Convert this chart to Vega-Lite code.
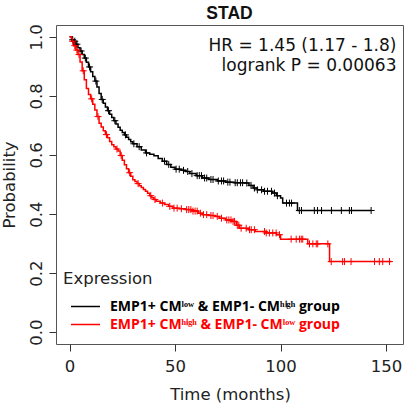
{
  "$schema": "https://vega.github.io/schema/vega-lite/v6.json",
  "width": 347,
  "height": 319,
  "autosize": "none",
  "padding": {"left": 56, "top": 25, "right": 12, "bottom": 63},
  "title": {"text": "STAD", "font": "Liberation Sans", "fontSize": 17.5, "fontWeight": "bold", "offset": 6, "dy": 5, "anchor": "middle", "color": "#111"},
  "config": {"view": {"stroke": "#555", "strokeWidth": 1}, "font": "DejaVu Sans"},
  "datasets": {
    "curves": [
      {"g":"A","t":0,"p":1.0},{"g":"A","t":1,"p":0.99},{"g":"A","t":2,"p":0.985},{"g":"A","t":3,"p":0.975},{"g":"A","t":4,"p":0.963},{"g":"A","t":5,"p":0.952},{"g":"A","t":6,"p":0.94},{"g":"A","t":7,"p":0.928},{"g":"A","t":8,"p":0.914},{"g":"A","t":9,"p":0.898},{"g":"A","t":10,"p":0.882},{"g":"A","t":11,"p":0.866},{"g":"A","t":12,"p":0.85},{"g":"A","t":13,"p":0.83},{"g":"A","t":14,"p":0.808},{"g":"A","t":15,"p":0.788},{"g":"A","t":16,"p":0.775},{"g":"A","t":17,"p":0.762},{"g":"A","t":18,"p":0.75},{"g":"A","t":19,"p":0.738},{"g":"A","t":20,"p":0.727},{"g":"A","t":21,"p":0.716},{"g":"A","t":22,"p":0.705},{"g":"A","t":23,"p":0.694},{"g":"A","t":24,"p":0.684},{"g":"A","t":25,"p":0.676},{"g":"A","t":26,"p":0.668},{"g":"A","t":27,"p":0.66},{"g":"A","t":28,"p":0.652},{"g":"A","t":29,"p":0.645},{"g":"A","t":30,"p":0.638},{"g":"A","t":32,"p":0.628},{"g":"A","t":34,"p":0.617},{"g":"A","t":36,"p":0.607},{"g":"A","t":38,"p":0.602},{"g":"A","t":40,"p":0.597},{"g":"A","t":42,"p":0.588},{"g":"A","t":44,"p":0.579},{"g":"A","t":46,"p":0.568},{"g":"A","t":48,"p":0.558},{"g":"A","t":50,"p":0.552},{"g":"A","t":53,"p":0.548},{"g":"A","t":55,"p":0.544},{"g":"A","t":57,"p":0.537},{"g":"A","t":60,"p":0.53},{"g":"A","t":63,"p":0.522},{"g":"A","t":66,"p":0.517},{"g":"A","t":70,"p":0.512},{"g":"A","t":74,"p":0.508},{"g":"A","t":78,"p":0.506},{"g":"A","t":83,"p":0.505},{"g":"A","t":85,"p":0.497},{"g":"A","t":87,"p":0.488},{"g":"A","t":89,"p":0.482},{"g":"A","t":92,"p":0.477},{"g":"A","t":96,"p":0.471},{"g":"A","t":98,"p":0.462},{"g":"A","t":100,"p":0.454},{"g":"A","t":101,"p":0.437},{"g":"A","t":108,"p":0.412},{"g":"A","t":142.9,"p":0.412},
      {"g":"B","t":0,"p":1.0},{"g":"B","t":1,"p":0.985},{"g":"B","t":2,"p":0.97},{"g":"B","t":3,"p":0.955},{"g":"B","t":4,"p":0.94},{"g":"B","t":5,"p":0.915},{"g":"B","t":6,"p":0.885},{"g":"B","t":7,"p":0.855},{"g":"B","t":8,"p":0.825},{"g":"B","t":9,"p":0.805},{"g":"B","t":10,"p":0.79},{"g":"B","t":11,"p":0.772},{"g":"B","t":12,"p":0.752},{"g":"B","t":13,"p":0.73},{"g":"B","t":14,"p":0.707},{"g":"B","t":15,"p":0.695},{"g":"B","t":16,"p":0.682},{"g":"B","t":17,"p":0.669},{"g":"B","t":18,"p":0.658},{"g":"B","t":19,"p":0.646},{"g":"B","t":20,"p":0.635},{"g":"B","t":21,"p":0.628},{"g":"B","t":22,"p":0.62},{"g":"B","t":23,"p":0.613},{"g":"B","t":24,"p":0.598},{"g":"B","t":25,"p":0.582},{"g":"B","t":26,"p":0.567},{"g":"B","t":27,"p":0.553},{"g":"B","t":28,"p":0.54},{"g":"B","t":29,"p":0.528},{"g":"B","t":30,"p":0.516},{"g":"B","t":31,"p":0.51},{"g":"B","t":32,"p":0.503},{"g":"B","t":33,"p":0.496},{"g":"B","t":34,"p":0.49},{"g":"B","t":35,"p":0.483},{"g":"B","t":36,"p":0.477},{"g":"B","t":37,"p":0.47},{"g":"B","t":38,"p":0.462},{"g":"B","t":39,"p":0.455},{"g":"B","t":40,"p":0.449},{"g":"B","t":41,"p":0.443},{"g":"B","t":43,"p":0.437},{"g":"B","t":45,"p":0.432},{"g":"B","t":47,"p":0.426},{"g":"B","t":49,"p":0.42},{"g":"B","t":52,"p":0.418},{"g":"B","t":55,"p":0.415},{"g":"B","t":58,"p":0.41},{"g":"B","t":61,"p":0.403},{"g":"B","t":63,"p":0.398},{"g":"B","t":66,"p":0.395},{"g":"B","t":69,"p":0.392},{"g":"B","t":71,"p":0.386},{"g":"B","t":74,"p":0.38},{"g":"B","t":77,"p":0.375},{"g":"B","t":79,"p":0.362},{"g":"B","t":80.5,"p":0.352},{"g":"B","t":85,"p":0.347},{"g":"B","t":88,"p":0.341},{"g":"B","t":93,"p":0.336},{"g":"B","t":98,"p":0.33},{"g":"B","t":100,"p":0.315},{"g":"B","t":112.9,"p":0.299},{"g":"B","t":123.2,"p":0.239},{"g":"B","t":152.5,"p":0.239}
    ],
    "censors": [
      {"g":"A","t":1.5,"p":0.99},{"g":"A","t":2.5,"p":0.985},{"g":"A","t":3.5,"p":0.975},{"g":"A","t":5.5,"p":0.952},{"g":"A","t":7.5,"p":0.928},{"g":"A","t":9.5,"p":0.898},{"g":"A","t":12.5,"p":0.85},{"g":"A","t":15.5,"p":0.788},{"g":"A","t":18.5,"p":0.75},{"g":"A","t":21.5,"p":0.716},{"g":"A","t":26.5,"p":0.668},{"g":"A","t":30.5,"p":0.638},{"g":"A","t":33,"p":0.628},{"g":"A","t":36.5,"p":0.607},{"g":"A","t":45,"p":0.579},{"g":"A","t":47,"p":0.568},{"g":"A","t":50.5,"p":0.552},{"g":"A","t":52,"p":0.552},{"g":"A","t":54,"p":0.548},{"g":"A","t":56,"p":0.544},{"g":"A","t":58,"p":0.537},{"g":"A","t":60.5,"p":0.53},{"g":"A","t":61.5,"p":0.53},{"g":"A","t":62.5,"p":0.53},{"g":"A","t":64,"p":0.522},{"g":"A","t":65,"p":0.522},{"g":"A","t":67,"p":0.517},{"g":"A","t":68,"p":0.517},{"g":"A","t":70.5,"p":0.512},{"g":"A","t":72,"p":0.512},{"g":"A","t":73,"p":0.512},{"g":"A","t":75,"p":0.508},{"g":"A","t":76,"p":0.508},{"g":"A","t":78.5,"p":0.506},{"g":"A","t":79.5,"p":0.506},{"g":"A","t":81,"p":0.506},{"g":"A","t":82,"p":0.506},{"g":"A","t":84,"p":0.505},{"g":"A","t":86,"p":0.497},{"g":"A","t":87.6,"p":0.488},{"g":"A","t":89,"p":0.482},{"g":"A","t":91,"p":0.482},{"g":"A","t":92.4,"p":0.477},{"g":"A","t":93.8,"p":0.477},{"g":"A","t":95.7,"p":0.477},{"g":"A","t":97.1,"p":0.471},{"g":"A","t":98.5,"p":0.462},{"g":"A","t":102.8,"p":0.437},{"g":"A","t":104.2,"p":0.437},{"g":"A","t":105.2,"p":0.437},{"g":"A","t":108.9,"p":0.412},{"g":"A","t":109.9,"p":0.412},{"g":"A","t":116,"p":0.412},{"g":"A","t":117.5,"p":0.412},{"g":"A","t":119.4,"p":0.412},{"g":"A","t":124.1,"p":0.412},{"g":"A","t":128.8,"p":0.412},{"g":"A","t":132.6,"p":0.412},{"g":"A","t":133.6,"p":0.412},{"g":"A","t":142.9,"p":0.412},
      {"g":"B","t":1.5,"p":0.985},{"g":"B","t":2.5,"p":0.97},{"g":"B","t":3.5,"p":0.955},{"g":"B","t":4.5,"p":0.94},{"g":"B","t":6.5,"p":0.885},{"g":"B","t":10.5,"p":0.79},{"g":"B","t":13.5,"p":0.73},{"g":"B","t":17.5,"p":0.669},{"g":"B","t":22.5,"p":0.62},{"g":"B","t":24.5,"p":0.598},{"g":"B","t":28.5,"p":0.54},{"g":"B","t":32.5,"p":0.503},{"g":"B","t":38.5,"p":0.462},{"g":"B","t":40.5,"p":0.449},{"g":"B","t":44,"p":0.437},{"g":"B","t":47.5,"p":0.426},{"g":"B","t":49.5,"p":0.42},{"g":"B","t":51,"p":0.42},{"g":"B","t":53,"p":0.418},{"g":"B","t":55.5,"p":0.415},{"g":"B","t":56.5,"p":0.415},{"g":"B","t":57.5,"p":0.415},{"g":"B","t":58.5,"p":0.41},{"g":"B","t":59.5,"p":0.41},{"g":"B","t":60.5,"p":0.41},{"g":"B","t":62,"p":0.403},{"g":"B","t":63.5,"p":0.398},{"g":"B","t":65,"p":0.398},{"g":"B","t":67,"p":0.395},{"g":"B","t":68,"p":0.395},{"g":"B","t":70,"p":0.392},{"g":"B","t":72,"p":0.386},{"g":"B","t":74.5,"p":0.38},{"g":"B","t":75.5,"p":0.38},{"g":"B","t":76.5,"p":0.38},{"g":"B","t":77.5,"p":0.375},{"g":"B","t":78.2,"p":0.375},{"g":"B","t":79.5,"p":0.362},{"g":"B","t":80.2,"p":0.362},{"g":"B","t":81.3,"p":0.352},{"g":"B","t":83.7,"p":0.352},{"g":"B","t":85.3,"p":0.347},{"g":"B","t":86.1,"p":0.347},{"g":"B","t":87.6,"p":0.347},{"g":"B","t":92.4,"p":0.341},{"g":"B","t":93.2,"p":0.336},{"g":"B","t":94.7,"p":0.336},{"g":"B","t":96.3,"p":0.336},{"g":"B","t":97.9,"p":0.336},{"g":"B","t":99.5,"p":0.33},{"g":"B","t":105,"p":0.315},{"g":"B","t":107.4,"p":0.315},{"g":"B","t":109,"p":0.315},{"g":"B","t":109.8,"p":0.315},{"g":"B","t":110.5,"p":0.315},{"g":"B","t":113.7,"p":0.299},{"g":"B","t":115.3,"p":0.299},{"g":"B","t":116.9,"p":0.299},{"g":"B","t":117.6,"p":0.299},{"g":"B","t":122.4,"p":0.299},{"g":"B","t":124,"p":0.239},{"g":"B","t":129.4,"p":0.239},{"g":"B","t":130.3,"p":0.239},{"g":"B","t":133.4,"p":0.239},{"g":"B","t":144.5,"p":0.239},{"g":"B","t":146.8,"p":0.239},{"g":"B","t":148.4,"p":0.239},{"g":"B","t":151.6,"p":0.239}
    ],
    "notes": [
      {"t": 154.9, "p": 0.951, "label": "HR = 1.45 (1.17 - 1.8)"},
      {"t": 154.9, "p": 0.883, "label": "logrank P = 0.00063"}
    ]
  },
  "layer": [
    {
      "data": {"name": "curves"},
      "mark": {"type": "line", "interpolate": "step-after", "strokeWidth": 1.5},
      "encoding": {
        "x": {"field": "t", "type": "quantitative", "scale": {"domain": [-6.4, 158], "nice": false, "zero": false},
          "axis": {"values": [0, 50, 100, 150], "title": "Time (months)", "grid": false, "domain": false, "tickSize": 7, "tickColor": "#333", "labelFontSize": 16.5, "labelColor": "#222", "labelPadding": 20.5, "labelBaseline": "alphabetic", "labelFlush": false, "titleFontSize": 16.5, "titleFontWeight": "normal", "titleColor": "#222", "titleBaseline": "alphabetic", "titleX": 174, "titleY": 55}},
        "y": {"field": "p", "type": "quantitative", "scale": {"domain": [-0.04, 1.04], "nice": false, "zero": false},
          "axis": {"values": [0, 0.2, 0.4, 0.6, 0.8, 1.0], "format": ".1f", "title": "Probability", "grid": false, "domain": false, "tickSize": 7, "tickColor": "#333", "labelFontSize": 16.5, "labelColor": "#222", "labelAngle": -90, "labelAlign": "center", "labelBaseline": "alphabetic", "labelPadding": 7.5, "labelFlush": false, "titleFontSize": 16.5, "titleFontWeight": "normal", "titleColor": "#222", "titleAngle": -90, "titleAlign": "center", "titleBaseline": "alphabetic", "titleX": -42, "titleY": 159.5}},
        "color": {"field": "g", "type": "nominal", "scale": {"domain": ["A", "B"], "range": ["#000000", "#ff0000"]},
          "legend": {"orient": "none", "legendX": 7, "legendY": 246, "padding": 0, "title": "Expression", "titleFontSize": 16.5, "titleFontWeight": "normal", "titleColor": "#222", "titleFont": "DejaVu Sans", "titlePadding": 9,
            "labelExpr": "datum.value === 'A' ? 'EMP1+ CMˡᵒʷ & EMP1- CMʰⁱᵍʰ group' : 'EMP1+ CMʰⁱᵍʰ & EMP1- CMˡᵒʷ group'",
            "labelColor": {"expr": "datum.value === 'B' ? '#ff0000' : '#000000'"},
            "labelFont": "Open Sans", "labelFontWeight": "bold", "labelFontSize": 14, "labelOffset": 27, "labelLimit": 400,
            "symbolType": "M-0.216,0L2.92,0", "symbolSize": 342, "symbolStrokeWidth": 1.5, "rowPadding": 1}}
      }
    },
    {
      "data": {"name": "censors"},
      "mark": {"type": "point", "shape": "M-1,0L1,0M0,-1L0,1", "size": 49, "strokeWidth": 1, "filled": false, "opacity": 1},
      "encoding": {
        "x": {"field": "t", "type": "quantitative"},
        "y": {"field": "p", "type": "quantitative"},
        "color": {"field": "g", "type": "nominal", "legend": null}
      }
    },
    {
      "data": {"name": "notes"},
      "mark": {"type": "text", "align": "right", "baseline": "alphabetic", "fontSize": 17, "font": "DejaVu Sans", "color": "#111"},
      "encoding": {
        "x": {"field": "t", "type": "quantitative"},
        "y": {"field": "p", "type": "quantitative"},
        "text": {"field": "label"}
      }
    }
  ]
}
